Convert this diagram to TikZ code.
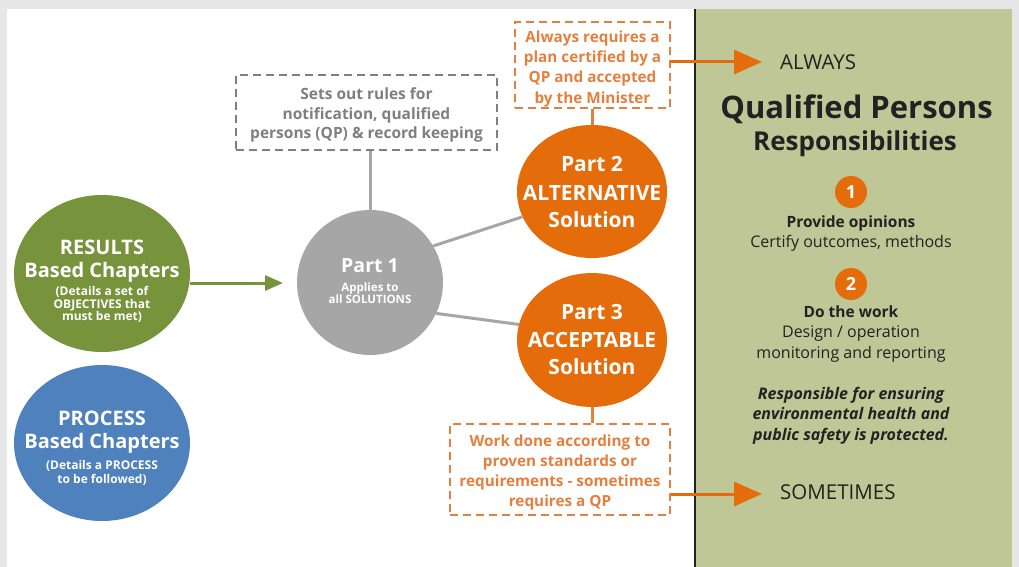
\documentclass[tikz,border=0pt]{standalone}
\usepackage{fontspec}
\setmainfont{Open Sans}
\usetikzlibrary{arrows.meta,shapes.geometric}
\definecolor{rgreen}{HTML}{77933C}
\definecolor{pblue}{HTML}{4F81BD}
\definecolor{pgray}{HTML}{A6A6A6}
\definecolor{porange}{HTML}{E46C0A}
\definecolor{lorange}{HTML}{E3803F}
\definecolor{tgray}{HTML}{7F7F7F}
\definecolor{panel}{HTML}{BEC795}
\definecolor{dark}{HTML}{222222}
\definecolor{bgshade}{HTML}{E6E6E6}
\newcommand\fs[1]{\fontsize{#1}{#1}\selectfont}
\tikzset{
  blob/.style={ellipse, inner sep=0pt, draw=none},
  t/.style={anchor=base, inner sep=0pt},
  tl/.style={anchor=base west, inner sep=0pt},
  dbox/.style={dash pattern=on 8pt off 5pt, line width=2pt, fill=white},
  conn/.style={line width=3pt, draw=pgray},
  oconn/.style={line width=3pt, draw=lorange},
  oarrow/.style={line width=3pt, draw=porange, -{Triangle[length=28pt,width=24pt]}},
  garrow/.style={line width=3pt, draw=rgreen, -{Triangle[length=18pt,width=15pt]}},
  num/.style={circle, fill=porange, minimum size=32pt, inner sep=0pt, text=white, font=\bfseries\fs{18}},
}
\begin{document}
\begin{tikzpicture}[x=1pt,y=-1pt]
\useasboundingbox (0,0) rectangle (1019,567);
\fill[bgshade] (0,0) rectangle (1019,567);
\fill[white] (7,9) rectangle (695,567);
\fill[panel] (695,9) rectangle (1012,567);
\draw[line width=2pt, dark] (695,9) -- (695,567);

% boxes
\node[dbox, draw=tgray, minimum width=261pt, minimum height=75pt] (rules) at (366.5,112.5) {};
\node[dbox, draw=lorange, minimum width=155pt, minimum height=86pt] (always) at (592.5,65) {};
\node[dbox, draw=lorange, minimum width=220pt, minimum height=91pt] (work) at (560,469.5) {};

% circles
\node[blob, fill=rgreen, minimum width=176pt, minimum height=157pt] (results) at (102,273.5) {};
\node[blob, fill=pblue, minimum width=176pt, minimum height=156pt] (process) at (102,443) {};
\node[blob, fill=pgray, minimum width=146pt, minimum height=145pt] (part1) at (370,282.5) {};
\node[blob, fill=porange, minimum width=150pt, minimum height=133pt] (part2) at (592,191.5) {};
\node[blob, fill=porange, minimum width=150pt, minimum height=134pt] (part3) at (592,340) {};

% connectors
\draw[conn] (rules.south -| part1.north) -- (part1.north);
\draw[conn] (part1.30) -- (part2.200);
\draw[conn] (part1.-25) -- (part3.168);
\draw[oconn] (always.south -| part2.north) -- (part2.north);
\draw[oconn] (part3.south) -- (part3.south |- work.north);
\coordinate (alwaysend) at (762,62);
\coordinate (someend) at (762,494);
\draw[oarrow] (always.east |- alwaysend) -- (alwaysend);
\draw[oarrow] (work.east |- someend) -- (someend);
\coordinate (garrowend) at (283,283);
\draw[garrow] (results.east |- garrowend) -- (garrowend);

% circle texts
\begin{scope}[every node/.append style={text=white, font=\bfseries}]
\node[t] (r1) at (102,254.1) {\fs{20}RESULTS};
\node[t] (r2) at (102,277.1) {\fs{20}Based Chapters};
\node[t] (r3) at (102,295.3) {\fs{12}(Details a set of};
\node[t] (r4) at (102,308.3) {\fs{12}OBJECTIVES that};
\node[t] (r5) at (102,320.5) {\fs{12}must be met)};
\node[t] (p1) at (102,425.1) {\fs{20}PROCESS};
\node[t] (p2) at (102,448.1) {\fs{20}Based Chapters};
\node[t] (p3) at (102,469.3) {\fs{12}(Details a PROCESS};
\node[t] (p4) at (102,483.3) {\fs{12}to be followed)};
\node[t] (a1) at (370,272) {\fs{19.5}Part 1};
\node[t] (a2) at (370,291.1) {\fs{11.5}Applies to};
\node[t] (a3) at (370,303.1) {\fs{11.5}all SOLUTIONS};
\node[t] (b1) at (592,171.5) {\fs{21}Part 2};
\node[t] (b2) at (592,200.5) {\fs{21}ALTERNATIVE};
\node[t] (b3) at (592,227.5) {\fs{21}Solution};
\node[t] (c1) at (592,319.5) {\fs{21}Part 3};
\node[t] (c2) at (592,347.5) {\fs{21}ACCEPTABLE};
\node[t] (c3) at (592,374.5) {\fs{21}Solution};
\end{scope}

% box texts
\begin{scope}[every node/.append style={text=tgray, font=\bfseries\fs{15.5}}]
\node[t] (g1) at (366.5,100) {Sets out rules for};
\node[t] (g2) at (366.5,119.5) {notification, qualified};
\node[t] (g3) at (366.5,139) {persons (QP) \& record keeping};
\end{scope}
\begin{scope}[every node/.append style={text=lorange, font=\bfseries\fs{15.3}}]
\node[t] (o1) at (592.5,43) {Always requires a};
\node[t] (o2) at (592.5,63) {plan certified by a};
\node[t] (o3) at (592.5,82.5) {QP and accepted};
\node[t] (o4) at (592.5,103) {by the Minister};
\node[t] (w1) at (560,446) {Work done according to};
\node[t] (w2) at (560,466) {proven standards or};
\node[t] (w3) at (560,486) {requirements - sometimes};
\node[t] (w4) at (560,506) {requires a QP};
\end{scope}

% right panel
\begin{scope}[every node/.append style={text=dark}]
\node[tl, font=\fs{20.5}] (alw) at (780,69.3) {ALWAYS};
\node[tl, font=\fs{20.5}] (som) at (780,499.3) {SOMETIMES};
\node[t, font=\bfseries\fs{31}] (qp) at (856.5,118.1) {Qualified Persons};
\node[t, font=\bfseries\fs{26}] (resp) at (855,150.3) {Responsibilities};
\node[t, font=\bfseries\fs{15.5}] (po) at (851,227.3) {Provide opinions};
\node[t, font=\fs{16}] (co) at (851,247.5) {Certify outcomes, methods};
\node[t, font=\bfseries\fs{15.5}] (dw) at (851,317.3) {Do the work};
\node[t, font=\fs{16}] (de) at (851,337.5) {Design / operation};
\node[t, font=\fs{16}] (mo) at (851,358.5) {monitoring and reporting};
\node[t, font=\bfseries\itshape\fs{16}] (i1) at (851,399.5) {Responsible for ensuring};
\node[t, font=\bfseries\itshape\fs{16}] (i2) at (851,419.5) {environmental health and};
\node[t, font=\bfseries\itshape\fs{16}] (i3) at (851,440.5) {public safety is protected.};
\end{scope}
\node[num] (n1) at (851,192) {1};
\node[num] (n2) at (851,284) {2};
\end{tikzpicture}
\end{document}
